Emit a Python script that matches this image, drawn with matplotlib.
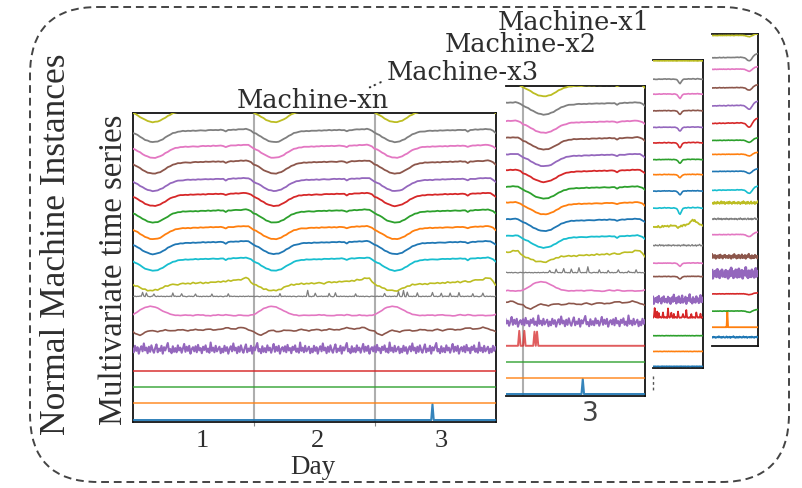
import numpy as np
import matplotlib
matplotlib.use("Agg")
import matplotlib.pyplot as plt
from matplotlib.patches import FancyBboxPatch

# ---------------- data ----------------
day_labels = ["1", "2", "3"]
machine_names = ["Machine-xn", "Machine-x3", "Machine-x2", "Machine-x1"]

# half-hourly daily profiles (48 points per day)
smooth_day = [0.70, 0.62, 0.52, 0.40, 0.28, 0.17, 0.09, 0.03, 0.00, 0.01,
              0.05, 0.12, 0.22, 0.34, 0.46, 0.57, 0.66, 0.72, 0.77, 0.80,
              0.82, 0.83, 0.84, 0.84, 0.85, 0.86, 0.86, 0.87, 0.88, 0.88,
              0.89, 0.89, 0.90, 0.90, 0.91, 0.91, 0.90, 0.80, 0.90, 0.92,
              0.93, 0.94, 0.95, 0.96, 0.97, 0.98, 0.95, 0.85]
olive_day = [0.40, 0.35, 0.28, 0.20, 0.12, 0.06, 0.02, 0.00, 0.00, 0.02,
             0.06, 0.12, 0.20, 0.28, 0.34, 0.38, 0.40, 0.42, 0.43, 0.44,
             0.45, 0.46, 0.47, 0.48, 0.50, 0.49, 0.51, 0.52, 0.50, 0.53,
             0.55, 0.54, 0.56, 0.58, 0.57, 0.60, 0.62, 0.60, 0.64, 0.66,
             0.68, 0.72, 0.70, 0.75, 0.80, 0.85, 0.82, 0.60]
pink_day = [0.15, 0.22, 0.32, 0.42, 0.52, 0.58, 0.62, 0.65, 0.64, 0.60,
            0.54, 0.46, 0.38, 0.30, 0.24, 0.18, 0.14, 0.12, 0.10, 0.10,
            0.11, 0.12, 0.12, 0.11, 0.10, 0.12, 0.14, 0.13, 0.12, 0.10,
            0.09, 0.08, 0.10, 0.12, 0.14, 0.12, 0.10, 0.16, 0.12, 0.10,
            0.09, 0.10, 0.12, 0.11, 0.10, 0.09, 0.10, 0.12]
brown_day = [0.25, 0.12, 0.05, 0.02, 0.08, 0.18, 0.26, 0.30, 0.28, 0.24,
             0.22, 0.26, 0.30, 0.32, 0.30, 0.28, 0.27, 0.30, 0.33, 0.35,
             0.33, 0.30, 0.28, 0.30, 0.34, 0.36, 0.33, 0.30, 0.32, 0.35,
             0.38, 0.36, 0.34, 0.33, 0.35, 0.38, 0.42, 0.45, 0.44, 0.40,
             0.38, 0.40, 0.44, 0.48, 0.46, 0.40, 0.34, 0.28]
wiggle = [0.3, -0.2, 0.5, -0.6, 0.1, 0.4, -0.3, -0.8, 0.2, 0.6, -0.1, 0.3,
          -0.5, 0.7, -0.2, 0.0, 0.5, -0.4, 0.2, -0.7, 0.4, 0.1, -0.3, 0.6,
          -0.5, 0.2, -0.1, 0.8, -0.4]
purple_noise = [0.2, -0.6, 0.8, -0.3, 0.5, -0.9, 0.1, 0.7, -0.4, 1.3, -0.2,
                0.4, -0.8, 0.6, -0.5, 0.9, -0.1, -0.7, 0.3, 1.1, -0.6, 0.2,
                -0.3, 0.8, -0.9, 0.5, -0.2, 0.6, 1.4, -0.4, 0.1, -0.8, 0.7,
                -0.5, 0.3, -0.6, 0.9, -0.2, 0.4, -0.7, 0.2, 1.2, -0.5, 0.6,
                -0.3, 0.8, -0.9, 0.1, 0.5, -0.4, 0.7, -0.6, 1.0, -0.2, 0.3,
                -0.8, 0.6, -0.1, 0.9, -0.5, 0.2, -0.7, 1.5, -0.3, 0.4, -0.6,
                0.8, -0.4, 0.1, 0.6, -0.8]

# Machine-xn (front panel)
xn_levels = [0.0, 1.0, 2.0, 2.97, 4.25, 5.1, 6.2, 7.45, 7.8, 9.0,
             10.0, 10.9, 11.9, 12.9, 13.8, 14.85, 15.8, 16.75, 17.95]
xn_gray_spike_t = [0.08, 0.11, 0.18, 0.33, 0.41, 0.52, 0.66, 0.79, 1.22,
                   1.45, 1.51, 1.62, 1.68, 1.84, 2.08, 2.20, 2.24, 2.27,
                   2.35, 2.48, 2.55, 2.62, 2.70, 2.81, 2.90]
xn_gray_spike_h = [0.25, 0.2, 0.15, 0.2, 0.18, 0.15, 0.12, 0.15, 0.15, 0.35,
                   0.2, 0.18, 0.2, 0.15, 0.2, 0.3, 0.35, 0.25, 0.2, 0.25,
                   0.2, 0.18, 0.22, 0.15, 0.2]
xn_red_spike_t, xn_red_spike_h = [], []
xn_blue_spike_t, xn_blue_spike_h = [2.48], [0.95]

# Machine-x3
x3_levels = [0.0, 0.95, 1.9, 2.9, 4.3, 5.1, 6.1, 7.3, 7.95, 8.8,
             9.8, 10.8, 11.75, 12.75, 13.7, 14.7, 15.7, 16.8, 17.9]
x3_gray_spike_t = [2.22, 2.27, 2.33, 2.40, 2.46, 2.53, 2.62, 2.70, 2.78, 2.86, 2.93]
x3_gray_spike_h = [0.15, 0.2, 0.25, 0.2, 0.3, 0.35, 0.15, 0.12, 0.18, 0.12, 0.15]
x3_red_spike_t = [1.973, 2.008, 2.095, 2.115]
x3_red_spike_h = [0.9, 0.9, 0.85, 0.85]
x3_blue_spike_t, x3_blue_spike_h = [2.49], [0.9]

# Machine-x2 (short window, 49 samples)
x2_levels = [0.0, 0.9, 1.85, 2.95, 4.0, 5.4, 6.2, 7.3, 8.4, 9.5,
             10.55, 11.55, 12.45, 13.45, 14.4, 15.4, 16.4, 17.3, 18.45]
x2_bend = [0.05, 0.06, 0.05, 0.04, 0.05, 0.06, 0.07, 0.06, 0.05, 0.06,
           0.07, 0.08, 0.07, 0.06, 0.07, 0.08, 0.07, 0.06, 0.05, 0.06,
           0.07, 0.06, 0.04, 0.0, -0.1, -0.25, -0.32, -0.2, -0.05, 0.04,
           0.06, 0.07, 0.06, 0.08, 0.09, 0.08, 0.07, 0.08, 0.1, 0.09,
           0.08, 0.07, 0.09, 0.1, 0.08, 0.07, 0.06, 0.05, 0.04]
x2_bend_amp = [0, 0, 0, 0, 0, 0.4, 0.5, 0, 0, 1.0,
               0.6, 0.5, 0.6, 0.8, 0.6, 0.6, 0.7, 0.7, 0]
x2_olive = [0.0, 0.05, -0.03, 0.04, 0.0, 0.06, 0.02, -0.02, 0.05, 0.08,
            0.03, 0.06, 0.1, 0.05, 0.08, 0.04, 0.1, 0.12, 0.06, 0.1,
            0.08, 0.12, 0.05, 0.02, -0.05, 0.0, 0.05, 0.1, 0.08, 0.12,
            0.15, 0.1, 0.14, 0.2, 0.18, 0.25, 0.3, 0.4, 0.45, 0.38,
            0.42, 0.35, 0.3, 0.25, 0.22, 0.2, 0.15, 0.1, 0.08]
x2_red_spike_t = [0.04, 0.08, 0.12, 0.20, 0.30, 0.36, 0.42, 0.50, 0.60, 0.66, 0.76, 0.86, 0.95]
x2_red_spike_h = [0.6, 0.35, 0.25, 0.3, 0.55, 0.3, 0.2, 0.35, 0.25, 0.4, 0.2, 0.3, 0.2]

# Machine-x1 (short window, 49 samples)
x1_levels = [0.02, 0.62, 1.57, 2.6, 3.79, 4.82, 6.12, 7.07, 8.03, 8.76,
             9.89, 10.91, 11.74, 12.74, 13.79, 14.87, 15.98, 16.66, 18.0]
x1_bend = [0.02, 0.03, 0.02, 0.04, 0.03, 0.02, 0.03, 0.04, 0.05, 0.04,
           0.03, 0.04, 0.05, 0.04, 0.03, 0.04, 0.05, 0.06, 0.05, 0.04,
           0.05, 0.06, 0.05, 0.04, 0.05, 0.06, 0.07, 0.06, 0.05, 0.06,
           0.07, 0.06, 0.05, 0.04, 0.02, -0.02, -0.08, -0.14, -0.18, -0.20,
           -0.16, -0.08, 0.02, 0.12, 0.20, 0.26, 0.30, 0.32, 0.33]
x1_bend_amp = [0, 0, 0.3, 0.2, 0, 0.3, 0.5, 0, 0.5, 0.8,
               0.5, 0.4, 0.5, 1.0, 0.9, 0.6, 0.5, 0.8, 0.3]
x1_orange_spike_t, x1_orange_spike_h = [0.33], [0.95]

# ---------------- helpers ----------------
N_C, N_F = 48, 96
t_c = np.arange(3 * N_C + 1) / N_C
t_f = np.arange(3 * N_F + 1) / N_F


def daily(profile):
    p = np.asarray(profile, float)
    return np.append(np.tile(p, 3), p[0])


def cyc(values, n, shift=0):
    return np.roll(np.resize(np.asarray(values, float), n), shift)


def spikes(t, base, ts, hs):
    y = base.copy()
    for tt, h in zip(ts, hs):
        y[np.argmin(np.abs(t - tt))] += h
    return y


def machine_series(lv, smooth_amp, olive_amp, gray_spk, red_spk, blue_spk):
    nc, nf = len(t_c), len(t_f)
    s = []
    s.append((t_f, spikes(t_f, np.full(nf, lv[0]), *blue_spk), 1.5, 0.9))
    s.append((t_c, np.full(nc, lv[1]), 1.4, 0.7))
    s.append((t_c, np.full(nc, lv[2]), 1.4, 0.7))
    s.append((t_f, spikes(t_f, np.full(nf, lv[3]), *red_spk), 1.4, 0.75))
    s.append((t_f, lv[4] + 0.28 * cyc(purple_noise, nf), 1.5, 1.0))
    s.append((t_c, lv[5] + daily(brown_day) + 0.03 * cyc(wiggle, nc), 1.2, 1.0))
    s.append((t_c, lv[6] + daily(pink_day) + 0.02 * cyc(wiggle, nc, 5), 1.2, 1.0))
    s.append((t_f, spikes(t_f, lv[7] + 0.03 * cyc(wiggle, nf, 7), *gray_spk), 0.9, 1.0))
    s.append((t_c, lv[8] + olive_amp * daily(olive_day) + 0.06 * cyc(wiggle, nc, 11), 1.2, 1.0))
    for k in range(9, 19):
        s.append((t_c, lv[k] + smooth_amp * daily(smooth_day)
                  + 0.025 * cyc(wiggle, nc, 3 * k), 1.3, 1.0))
    return s


def short_series(lv, bend, amps, noisy_idx, spike_idx, spk):
    t = np.linspace(0, 1, len(bend))
    tf = np.linspace(0, 1, 61)
    s = []
    for k in range(19):
        if k in noisy_idx:
            amp, lw = noisy_idx[k]
            y = lv[k] + amp * cyc(purple_noise, len(tf), 4 * k)
            if k == spike_idx:
                y = spikes(tf, y, *spk)
            s.append((tf, y, lw, 1.0))
        else:
            s.append((t, lv[k] + amps[k] * np.asarray(bend)
                      + 0.012 * cyc(wiggle, len(t), 2 * k), 1.2, 1.0))
    return s


def draw(ax, series):
    for k, (t, y, lw, a) in enumerate(series):
        ax.plot(t, y, color=f"C{k % 10}", lw=lw, alpha=a, zorder=3,
                solid_joinstyle="round")


# ---------------- figure ----------------
W, H = 802, 489
fig = plt.figure(figsize=(W / 100, H / 100), dpi=100)
SERIF = "DejaVu Serif"
TIMES = "Liberation Serif"
TXT = "#2e2e2e"

bg = fig.add_axes([0, 0, 1, 1], zorder=0)
bg.set_xlim(0, W)
bg.set_ylim(H, 0)
bg.axis("off")


def box(l, t, r, b):
    return [l / W, 1 - b / H, (r - l) / W, (b - t) / H]


def style(ax, left=True):
    for sp in ax.spines.values():
        sp.set_linewidth(1.3)
        sp.set_color("#111111")
    ax.spines["left"].set_visible(left)
    ax.set_yticks([])
    ax.patch.set_alpha(0)


# Machine-xn
ax = fig.add_axes(box(132.5, 114, 495.5, 422.7), zorder=2)
draw(ax, machine_series(xn_levels, 0.8, 0.9,
                        (xn_gray_spike_t, xn_gray_spike_h),
                        (xn_red_spike_t, xn_red_spike_h),
                        (xn_blue_spike_t, xn_blue_spike_h)))
for d in (1, 2):
    ax.axvline(d, color="#9a9a9a", lw=1.5, alpha=0.8, zorder=1)
ax.set_xlim(0, 3)
ax.set_ylim(-0.1, 18.5)
style(ax)
ax.set_xticks([1, 2])
ax.set_xticklabels([])
ax.tick_params(axis="x", which="major", length=3, color="#888888")
ax.set_xticks([0.58, 1.53, 2.55], minor=True)
ax.set_xticklabels(day_labels, minor=True, fontsize=19, family=TIMES, color=TXT)
ax.tick_params(axis="x", which="minor", length=0, pad=5)

# Machine-x3
ax3 = fig.add_axes(box(506, 87.3, 645, 396.7), zorder=2)
draw(ax3, machine_series(x3_levels, 0.75, 0.8,
                         (x3_gray_spike_t, x3_gray_spike_h),
                         (x3_red_spike_t, x3_red_spike_h),
                         (x3_blue_spike_t, x3_blue_spike_h)))
ax3.axvline(2, color="#9a9a9a", lw=1.5, alpha=0.8, zorder=1)
ax3.set_xlim(1.86, 3.0)
ax3.set_ylim(-0.1, 18.5)
style(ax3, left=False)
ax3.set_xticks([2.55])
ax3.set_xticklabels([day_labels[2]], fontsize=19, family="DejaVu Sans", color="#444444")
ax3.tick_params(axis="x", length=0, pad=3)

# Machine-x2
ax2 = fig.add_axes(box(653, 61, 703, 369), zorder=2)
x2 = short_series(x2_levels, x2_bend, x2_bend_amp,
                  {3: (0.04, 1.2), 4: (0.25, 1.6), 7: (0.05, 0.9)}, 3,
                  (x2_red_spike_t, x2_red_spike_h))
tt = np.linspace(0, 1, len(x2_olive))
x2[8] = (tt, x2_levels[8] + np.asarray(x2_olive) + 0.05 * cyc(wiggle, len(tt), 9), 1.3, 1.0)
draw(ax2, x2)
ax2.set_xlim(0, 1)
ax2.set_ylim(-0.1, 18.5)
style(ax2, left=False)
ax2.set_xticks([])

# Machine-x1
ax1 = fig.add_axes(box(712, 35, 758, 347), zorder=2)
x1 = short_series(x1_levels, x1_bend, x1_bend_amp,
                  {0: (0.05, 1.2), 1: (0.0, 1.3), 4: (0.28, 2.0), 5: (0.12, 1.6),
                   7: (0.05, 1.0), 8: (0.08, 1.3)}, 1,
                  (x1_orange_spike_t, x1_orange_spike_h))
draw(ax1, x1)
ax1.set_xlim(0, 1)
ax1.set_ylim(-0.5, 18.1)
style(ax1, left=False)
ax1.set_xticks([])

# ---------------- annotations ----------------
bg.add_patch(FancyBboxPatch((30, 8), 759, 475,
                            boxstyle="round,pad=0,rounding_size=68",
                            fill=False, ec="#444444", lw=1.4,
                            ls=(0, (4, 2.5))))
bg.plot([653, 653], [377, 393], color="#555555", lw=1.0, ls=(0, (2, 2)))

bg.text(57, 244, "Normal Machine Instances", rotation=90, ha="center", va="center",
        fontsize=25.5, family=TIMES, color=TXT)
bg.text(114, 270, "Multivariate time series", rotation=90, ha="center", va="center",
        fontsize=23.5, family=TIMES, color=TXT)
bg.text(313, 467, "Day", ha="center", va="center", fontsize=19.5, family=TIMES, color=TXT)
title_pos = [(313, 100), (463, 73), (521, 45), (574, 22)]
for name, (x, y) in zip(machine_names, title_pos):
    bg.text(x, y, name, ha="center", va="center", fontsize=18.5, family=SERIF, color=TXT)
bg.text(374, 81, "...", rotation=25, ha="center", va="center",
        fontsize=14, family=SERIF, color=TXT)

fig.savefig("out.png", dpi=100)
